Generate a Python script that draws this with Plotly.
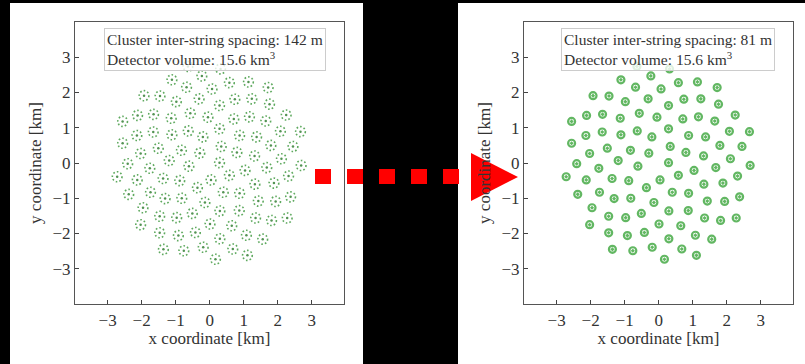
import plotly.graph_objects as go

# Cluster centre positions [km] (same layout in both panels)
cluster_x = [-0.64, 0.32, -1.11, -0.23, 0.58, 1.14, 1.72, -0.68, 0.07,
             -1.93, -1.46, -0.98, -0.31, 0.29, 0.74, 1.24, 1.76,
             -2.56, -2.12, -1.65, -1.13, -0.57, -0.05, 0.71, 1.17, 1.65, 2.25,
             -2.14, -1.66, -1.11, -0.63, -0.20, 0.29, 0.88, 1.38, 2.08, 2.67,
             -2.56, -2.03, -1.51, -0.83, -0.29, 0.34, 0.80, 1.32, 1.80, 2.45,
             -2.41, -1.76, -1.19, -0.61, 0.29, 1.04, 1.68, 2.11, 2.69,
             -2.72, -2.13, -1.37, -0.88, 0.04, 0.58, 1.33, 1.89, 2.32,
             -2.38, -1.74, -1.31, -0.82, -0.36, -0.14, 0.40, 0.88, 1.43, 1.94, 2.38,
             -1.96, -1.47, -0.97, -0.51, 0.30, 0.87, 1.35, 1.82, 2.28,
             -2.03, -1.47, -0.92, -0.42, 0.01, 0.65, 0.30, 1.08, 1.56,
             -1.36, -0.76, -0.19, 0.68, 1.11, 0.17]
cluster_y = [2.74, 2.67, 2.36, 2.47, 2.28, 2.30, 2.14, 2.15, 2.10,
             1.91, 1.90, 1.74, 1.82, 1.63, 1.81, 1.82, 1.67,
             1.18, 1.35, 1.38, 1.27, 1.41, 1.30, 1.25, 1.31, 1.19, 1.36,
             0.78, 0.88, 0.80, 0.91, 0.74, 0.97, 0.78, 0.74, 0.90, 0.89,
             0.56, 0.27, 0.42, 0.36, 0.28, 0.47, 0.30, 0.20, 0.50, 0.47,
             -0.02, -0.15, 0.07, -0.09, 0.01, -0.21, -0.13, 0.12, -0.07,
             -0.39, -0.48, -0.44, -0.50, -0.48, -0.35, -0.60, -0.57, -0.37,
             -0.89, -0.83, -1.01, -1.00, -0.70, -1.12, -0.83, -0.86, -1.08, -1.09, -0.96,
             -1.27, -1.51, -1.55, -1.43, -1.36, -1.35, -1.56, -1.63, -1.56,
             -1.75, -1.98, -2.06, -1.97, -1.73, -1.78, -2.15, -2.05, -2.16,
             -2.45, -2.49, -2.39, -2.44, -2.62, -2.73]

spacing_km = [0.142, 0.081]
spacing_label = ["142 m", "81 m"]
volume_label = ["15.6", "15.6"]
tick_vals = [-3, -2, -1, 0, 1, 2, 3]
tick_text = ["\u22123", "\u22122", "\u22121", "0", "1", "2", "3"]

W, H = 805, 364
FONT = "Liberation Serif"
TXT = "#333"
GREEN = "rgba(70,170,70,0.85)"

fig = go.Figure()

# Left panel: cluster centres
fig.add_trace(go.Scatter(x=cluster_x, y=cluster_y, mode="markers",
                         marker=dict(size=2.5, color="rgba(40,120,40,0.8)"),
                         xaxis="x", yaxis="y", showlegend=False, hoverinfo="skip"))
# Right panel: compact clusters
fig.add_trace(go.Scatter(x=cluster_x, y=cluster_y, mode="markers",
                         marker=dict(size=7, symbol="circle-open-dot",
                                     color=GREEN, line=dict(width=2.2, color=GREEN)),
                         xaxis="x2", yaxis="y2", showlegend=False, hoverinfo="skip"))

shapes = []
# white panels on black background
shapes.append(dict(type="rect", xref="paper", yref="paper", layer="below",
                   x0=10 / W, x1=363 / W, y0=0, y1=1 - 3 / H,
                   fillcolor="white", line=dict(width=0)))
shapes.append(dict(type="rect", xref="paper", yref="paper", layer="below",
                   x0=458 / W, x1=1, y0=0, y1=1 - 3 / H,
                   fillcolor="white", line=dict(width=0)))

# dashed rings of strings around each cluster centre (left panel)
r = spacing_km[0]
for cx, cy in zip(cluster_x, cluster_y):
    shapes.append(dict(type="circle", xref="x", yref="y", layer="above",
                       x0=cx - r, x1=cx + r, y0=cy - r, y1=cy + r,
                       line=dict(color="rgba(40,140,40,0.75)", width=1.6, dash="1.6px,2.1px")))

# red dashed arrow between panels
for i in range(5):
    x0 = 315 + 32 * i
    shapes.append(dict(type="rect", xref="paper", yref="paper", layer="above",
                       x0=x0 / W, x1=(x0 + 16) / W, y0=1 - 184 / H, y1=1 - 169 / H,
                       fillcolor="#ff0000", line=dict(width=0)))
tx0, tx1 = 471 / W, 518 / W
ty0, ty1, tym = 1 - 201 / H, 1 - 153 / H, 1 - 177 / H
shapes.append(dict(type="path", xref="paper", yref="paper", layer="above",
                   path=f"M {tx0} {ty0} L {tx0} {ty1} L {tx1} {tym} Z",
                   fillcolor="#ff0000", line=dict(width=0)))

axis_common = dict(range=[-3.96, 3.95], tickvals=tick_vals, ticktext=tick_text,
                   ticks="inside", ticklen=4, tickcolor="#444", showline=True,
                   linecolor="#555", linewidth=1.2, mirror=True, showgrid=False,
                   zeroline=False, tickfont=dict(family=FONT, size=17, color=TXT))
yaxis_common = dict(axis_common, range=[-4, 4])
title_font = dict(family=FONT, size=17, color=TXT)

fig.update_layout(
    width=W, height=H, margin=dict(l=0, r=0, t=0, b=0),
    paper_bgcolor="black", plot_bgcolor="white",
    shapes=shapes, showlegend=False,
    xaxis=dict(axis_common, domain=[75 / W, 344 / W], anchor="y",
               title=dict(text="x coordinate [km]", standoff=2, font=title_font)),
    yaxis=dict(yaxis_common, domain=[1 - 304 / H, 1 - 22 / H], anchor="x",
               title=dict(text="y coordinate [km]", standoff=6, font=title_font)),
    xaxis2=dict(axis_common, domain=[524 / W, 793 / W], anchor="y2",
                title=dict(text="x coordinate [km]", standoff=2, font=title_font)),
    yaxis2=dict(yaxis_common, domain=[1 - 304 / H, 1 - 22 / H], anchor="x2",
                title=dict(text="y coordinate [km]", standoff=6, font=title_font)),
)

# legend-like text boxes
for i, xl in enumerate([104, 561]):
    fig.add_annotation(
        xref="paper", yref="paper", x=xl / W, y=1 - 28 / H,
        xanchor="left", yanchor="top", align="left", showarrow=False,
        text=f"Cluster inter-string spacing: {spacing_label[i]}<br>"
             f"Detector volume: {volume_label[i]} km<sup>3</sup>",
        font=dict(family=FONT, size=15.5, color=TXT),
        bgcolor="rgba(255,255,255,0.8)", bordercolor="#ccc", borderwidth=1,
        borderpad=2)

fig.write_html("out.html", config={"displayModeBar": False},
               post_script="document.body.style.margin='0';"
                           "document.body.style.overflow='hidden';")
